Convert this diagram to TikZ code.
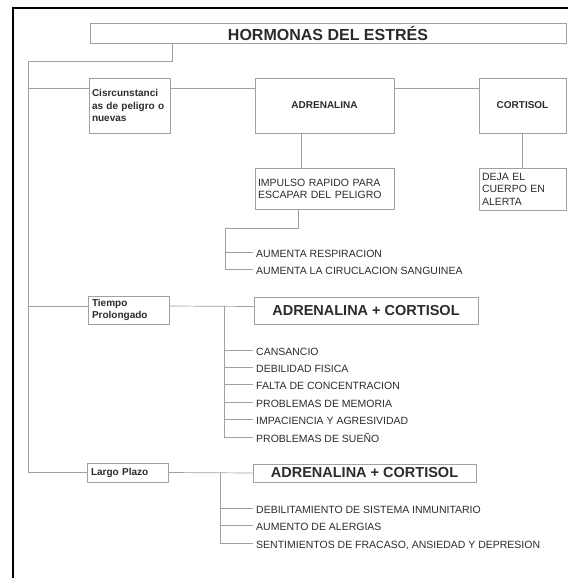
\documentclass[tikz,border=0pt]{standalone}
\usepackage{fontspec}
\setmainfont{Liberation Sans}
\usetikzlibrary{calc}
\definecolor{inkgray}{HTML}{2B2B2B}
\definecolor{linegray}{HTML}{A0A0A0}

\begin{document}
\begin{tikzpicture}[x=1pt,y=-1pt,
  box/.style={draw=linegray,line width=0.7pt,inner sep=0pt,text=inkgray},
  conn/.style={linegray,line width=0.7pt},
  item/.style={anchor=west,inner xsep=3pt,inner ysep=0pt,text height=10pt,text depth=0pt,text=inkgray,font=\fontsize{10.5}{12}\selectfont}]
\useasboundingbox (0,0) rectangle (568,578);
% ---- frame of the sheet
\draw[black,line width=2pt] (12.5,578) -- (12.5,8.5) -- (568,8.5);
% ---- title and first row
\node[box,minimum width=476pt,minimum height=20pt,font=\bfseries\fontsize{16}{19}\selectfont] (title) at (328,33) {HORMONAS DEL ESTRÉS};
\node[box,minimum width=81pt,minimum height=55pt,text width=75pt,align=left,font=\bfseries\fontsize{10}{12.5}\selectfont] (circ) at (129.5,105.5) {Cisrcunstanci\\as de peligro o\\nuevas};
\node[box,minimum width=139pt,minimum height=55pt,font=\bfseries\fontsize{10}{12}\selectfont] (adr) at (324.5,105.5) {ADRENALINA};
\node[box,minimum width=87pt,minimum height=55pt,font=\bfseries\fontsize{10}{12}\selectfont] (cort) at (522.5,105.5) {CORTISOL};
\node[box,minimum width=139pt,minimum height=41pt,text width=133pt,align=left,font=\fontsize{10.5}{12}\selectfont] (impulso) at (324.5,188.5) {IMPULSO RAPIDO PARA\\ESCAPAR DEL PELIGRO};
\node[box,minimum width=87pt,minimum height=42pt,text width=81pt,align=left,font=\fontsize{10.5}{12.5}\selectfont] (deja) at (522.5,189) {DEJA EL\\CUERPO EN\\ALERTA};
% ---- effects of adrenaline
\node[item] (resp) at (253,252) {AUMENTA RESPIRACION};
\node[item] (circul) at (253,269) {AUMENTA LA CIRUCLACION SANGUINEA};
% ---- long time
\node[box,minimum width=81pt,minimum height=28pt,text width=73pt,align=left,font=\bfseries\fontsize{10}{12.5}\selectfont] (tiempo) at (128.5,310) {Tiempo\\Prolongado};
\node[box,minimum width=224pt,minimum height=27pt,font=\bfseries\fontsize{14.5}{17}\selectfont] (acA) at (366,310.5) {ADRENALINA + CORTISOL};
\node[item] (sA1) at (253,350) {CANSANCIO};
\node[item] (sA2) at (253,367.4) {DEBILIDAD FISICA};
\node[item] (sA3) at (253,384.8) {FALTA DE CONCENTRACION};
\node[item] (sA4) at (253,402.2) {PROBLEMAS DE MEMORIA};
\node[item] (sA5) at (253,419.6) {IMPACIENCIA Y AGRESIVIDAD};
\node[item] (sA6) at (253,437) {PROBLEMAS DE SUEÑO};
% ---- long term
\node[box,minimum width=81pt,minimum height=19pt,text width=73pt,align=left,font=\bfseries\fontsize{10}{12}\selectfont] (largo) at (127.5,472.5) {Largo Plazo};
\node[box,minimum width=223pt,minimum height=18pt,font=\bfseries\fontsize{14.5}{17}\selectfont] (acB) at (364.5,473) {ADRENALINA + CORTISOL};
\node[item] (sB1) at (253,508) {DEBILITAMIENTO DE SISTEMA INMUNITARIO};
\node[item] (sB2) at (253,525) {AUMENTO DE ALERGIAS};
\node[item] (sB3) at (253,543) {SENTIMIENTOS DE FRACASO, ANSIEDAD Y DEPRESION};
% ---- connectors
\coordinate (spineTop) at (28,61);
\coordinate (circIn) at ([yshift=17.5pt]circ.west);
\coordinate (tiempoIn) at ([yshift=4pt]tiempo.west);
\draw[conn] ([xshift=-156pt]title.south) |- (spineTop) |- (largo.west);
\draw[conn] (spineTop |- circIn) -- (circIn);
\draw[conn] (spineTop |- tiempoIn) -- (tiempoIn);
\draw[conn] ([yshift=17.5pt]circ.east) -- ([yshift=17.5pt]adr.west);
\draw[conn] ([yshift=17.5pt]adr.east) -- ([yshift=17.5pt]cort.west);
\draw[conn] ([xshift=-23.5pt]adr.south) -- ([xshift=-23.5pt]impulso.north);
\draw[conn] (cort.south) -- (deja.north);
\coordinate (barR) at (225,228);
\draw[conn] ([xshift=-26.5pt]impulso.south) |- (barR) |- (circul.west);
\draw[conn] (barR |- resp.west) -- (resp.west);
\coordinate (barA) at (224,306);
\draw[conn] ([yshift=4pt]tiempo.east) -- ([yshift=4pt]acA.west);
\draw[conn] (barA) |- (sA6.west);
\draw[conn] (barA |- sA1.west) -- (sA1.west);
\draw[conn] (barA |- sA2.west) -- (sA2.west);
\draw[conn] (barA |- sA3.west) -- (sA3.west);
\draw[conn] (barA |- sA4.west) -- (sA4.west);
\draw[conn] (barA |- sA5.west) -- (sA5.west);
\coordinate (barB) at (220,472.5);
\draw[conn] (largo.east) -- (acB.west);
\draw[conn] (barB) |- (sB3.west);
\draw[conn] (barB |- sB1.west) -- (sB1.west);
\draw[conn] (barB |- sB2.west) -- (sB2.west);
\end{tikzpicture}
\end{document}
